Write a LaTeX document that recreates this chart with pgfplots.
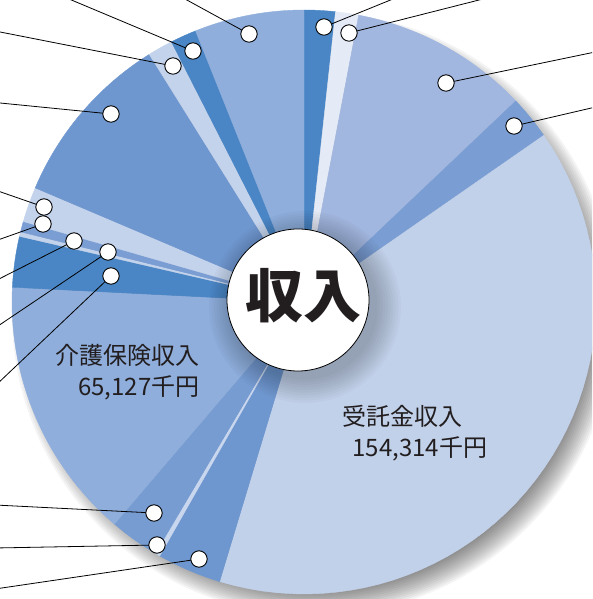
\documentclass[border=0pt]{standalone}
\usepackage{pgfplots}
\pgfplotsset{compat=1.18}
\usepackage{fontspec}
\newfontfamily\cjk{Noto Sans CJK JP}
\definecolor{dkblue}{HTML}{4A86C5}
\definecolor{vpale}{HTML}{E4EAF6}
\definecolor{ltmed}{HTML}{A2B7DF}
\definecolor{medA}{HTML}{7A9ED3}
\definecolor{bigc}{HTML}{C2D1EA}
\definecolor{medB}{HTML}{6F97CF}
\definecolor{paleA}{HTML}{C8D6EE}
\definecolor{medC}{HTML}{769CD2}
\definecolor{kaigo}{HTML}{8FAEDC}
\definecolor{paleB}{HTML}{C4D3EC}
\definecolor{txt}{HTML}{221E1F}
% pie centre (axis units = pixels, y upwards) and radius
\newcommand{\cx}{304}
\newcommand{\cy}{297}
\newcommand{\R}{292}
\newcommand{\pieslice}[3]{%
  \addplot[fill=#1, draw=#1, line width=0.4pt, domain=#2:#3, samples=50, variable=\t]
    ({\cx+\R*sin(\t)},{\cy+\R*cos(\t)}) -- (axis cs:\cx,\cy) -- cycle;}
\begin{document}
\begin{tikzpicture}
\begin{axis}[
  x=1pt, y=1pt,
  xmin=0, xmax=592, ymin=0, ymax=599,
  hide axis, clip=true, clip marker paths=true,
]
% outer drop shadow
\pgfplotsinvokeforeach{0,...,15}{
  \fill[black, opacity=0.045] (axis cs:314,285) circle[radius={302-2*#1}];
}
% slices: start angle, end angle (degrees clockwise from 12 o'clock)
\pieslice{dkblue}{0}{6.2}
\pieslice{vpale}{6.2}{10.8}
\pieslice{ltmed}{10.8}{46.5}
\pieslice{medA}{46.5}{55.2}
\pieslice{bigc}{55.2}{196.8}
\pieslice{medB}{196.8}{209.6}
\pieslice{paleA}{209.6}{210.6}
\pieslice{medC}{210.6}{220.5}
\pieslice{kaigo}{220.5}{272.9}
\pieslice{dkblue}{272.9}{283.0}
\pieslice{paleB}{283.0}{283.9}
\pieslice{medA}{283.9}{286.0}
\pieslice{paleB}{286.0}{293.0}
\pieslice{medB}{293.0}{328.0}
\pieslice{paleB}{328.0}{333.0}
\pieslice{dkblue}{333.0}{338.2}
\pieslice{kaigo}{338.2}{360}
% shadow around the centre disc
\pgfplotsinvokeforeach{1,...,10}{
  \fill[black, opacity=0.022] (axis cs:305,292) circle[radius={70+2.6*#1}];
}
% leader lines
\addplot[black, line width=0.8pt] coordinates {(324,572) (393,600)};
\addplot[black, line width=0.8pt] coordinates {(349,566) (483,600)};
\addplot[black, line width=0.8pt] coordinates {(446,516) (600,548)};
\addplot[black, line width=0.8pt] coordinates {(514,473) (600,493)};
\addplot[black, line width=0.8pt] coordinates {(249,565) (185,600)};
\addplot[black, line width=0.8pt] coordinates {(193,548) (69,600)};
\addplot[black, line width=0.8pt] coordinates {(173,533) (-5,568)};
\addplot[black, line width=0.8pt] coordinates {(111,485) (-5,496.5)};
\addplot[black, line width=0.8pt] coordinates {(44,392) (-5,409)};
\addplot[black, line width=0.8pt] coordinates {(43,375) (-5,358)};
\addplot[black, line width=0.8pt] coordinates {(74,358) (-5,318)};
\addplot[black, line width=0.8pt] coordinates {(108,347) (-5,271)};
\addplot[black, line width=0.8pt] coordinates {(111,323) (-5,213)};
\addplot[black, line width=0.8pt] coordinates {(154,86) (-5,94)};
\addplot[black, line width=0.8pt] coordinates {(157,54) (-5,51)};
\addplot[black, line width=0.8pt] coordinates {(199,40) (-5,10)};
% marker circles
\addplot[only marks, mark=*, mark size=8.2pt, mark options={fill=white, draw=black, line width=0.9pt}]
  coordinates {(324,572) (349,566) (446,516) (514,473) (249,565) (193,548) (173,533)
  (111,485) (44,392) (43,375) (74,358) (108,347) (111,323) (154,86) (157,54) (199,40)};
% centre disc
\addplot[only marks, mark=*, mark size=71pt, mark options={fill=white, draw=black, line width=0.8pt}]
  coordinates {(298,299)};
\node[font=\cjk\bfseries\fontsize{58}{60}\selectfont, text=txt] at (axis cs:303.5,303.5) {収入};
% labels
\node[font=\cjk\fontsize{24}{26}\selectfont, text=txt, anchor=base east] at (axis cs:203,234) {介護保険収入};
\node[font=\cjk\fontsize{24}{26}\selectfont, text=txt, anchor=base east] at (axis cs:203,203) {65,127千円};
\node[font=\cjk\fontsize{24}{26}\selectfont, text=txt, anchor=base west] at (axis cs:339,173) {受託金収入};
\node[font=\cjk\fontsize{24}{26}\selectfont, text=txt, anchor=base west] at (axis cs:349,142) {154,314千円};
\end{axis}
\pgfresetboundingbox
\path (current axis.south west) rectangle (current axis.north east);
\end{tikzpicture}
\end{document}
